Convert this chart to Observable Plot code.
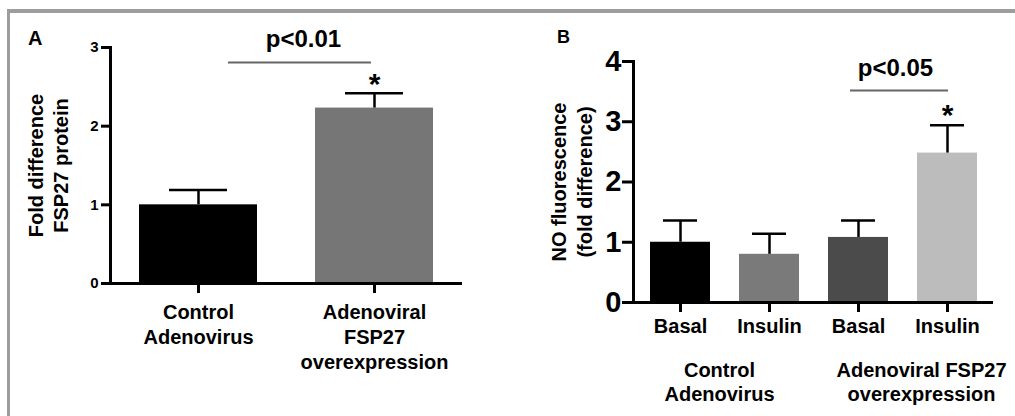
<!DOCTYPE html>
<html><head><meta charset="utf-8">
<script src="https://cdn.jsdelivr.net/npm/d3@7"></script>
<script src="https://cdn.jsdelivr.net/npm/@observablehq/plot@0.6"></script>
<style>
body{margin:0;background:#fff;}
#wrap{position:relative;width:1015px;height:416px;overflow:hidden;font-family:"Liberation Sans",Arial,sans-serif;}
#frame{position:absolute;left:7px;top:9px;right:-10px;bottom:-10px;border-top:4px solid #9d9d9d;border-left:3px solid #9d9d9d;}
.panel{position:absolute;top:0;}
.letter{position:absolute;font-weight:bold;line-height:1;color:#000;}
</style></head><body>
<div id="wrap"><div id="frame"></div><div id="pa" class="panel" style="left:0"></div><div id="pb" class="panel" style="left:500px"></div>
<span class="letter" style="left:28px;top:28px;font-size:20px">A</span>
<span class="letter" style="left:557px;top:28px;font-size:18px">B</span>
</div>
<script>
// Panel A data
const groupsA = ["Control\nAdenovirus", "Adenoviral\nFSP27\noverexpression"];
const meansA = [1.0, 2.23];
const semA = [0.19, 0.19];
const colorsA = ["#000000", "#767676"];
const ticksA = [0, 1, 2, 3];
const sigA = "p<0.01";

// Panel B data
const conditionsB = ["Basal", "Insulin", "Basal", "Insulin"];
const groupLabelsB = ["Control\nAdenovirus", "Adenoviral FSP27\noverexpression"];
const meansB = [1.0, 0.8, 1.08, 2.48];
const semB = [0.36, 0.34, 0.28, 0.46];
const colorsB = ["#000000", "#7a7a7a", "#4b4b4b", "#bcbcbc"];
const ticksB = [0, 1, 2, 3, 4];
const sigB = "p<0.05";

const font = "'Liberation Sans', Arial, sans-serif";
const intFmt = (d) => String(d);

const dataA = groupsA.map((g, i) => ({g, mean: meansA[i], err: meansA[i] + semA[i], color: colorsA[i]}));
const plotA = Plot.plot({
  width: 500, height: 416,
  marginLeft: 110, marginRight: 38, marginTop: 47, marginBottom: 133,
  style: {fontFamily: font, background: "transparent", overflow: "visible", color: "#000"},
  x: {domain: groupsA, paddingInner: 0.33, paddingOuter: 0.16, axis: null},
  y: {domain: [0, 3], axis: null},
  color: {type: "identity"},
  marks: [
    Plot.barY(dataA, {x: "g", y: "mean", fill: "color"}),
    Plot.ruleX(dataA, {x: "g", y1: "mean", y2: "err", stroke: "#000", strokeWidth: 2.5}),
    Plot.tickY(dataA, {x: "g", y: "err", stroke: "#000", strokeWidth: 2.5, inset: 30}),
    Plot.axisY({ticks: ticksA, tickFormat: intFmt, tickSize: 9, strokeWidth: 3, fontSize: 15, fontWeight: "bold", tickPadding: 3, label: null}),
    Plot.axisX({tickSize: 10, strokeWidth: 3, fontSize: 20, fontWeight: "bold", lineHeight: 1.25, tickPadding: 8, label: null}),
    Plot.ruleY([0], {stroke: "#000", strokeWidth: 3}),
    Plot.frame({anchor: "left", stroke: "#000", strokeWidth: 3}),
    Plot.ruleY([{from: groupsA[0], to: groupsA[1], y: 2.81}], {x1: "from", x2: "to", y: "y", stroke: "#666", strokeWidth: 2, insetLeft: 89, insetRight: 62}),
    Plot.text([{to: groupsA[1], y: 2.81}], {x: "to", y: "y", text: () => sigA, dx: -71, dy: -23, fontSize: 24, fontWeight: "bold"}),
    Plot.text([dataA[1]], {x: "g", y: "err", text: () => "*", dy: -9, fontSize: 30, fontWeight: "bold"}),
    Plot.text(["Fold difference\nFSP27 protein"], {frameAnchor: "left", textAnchor: "middle", rotate: -90, dx: -63, fontSize: 20, fontWeight: "bold", lineHeight: 1.25})
  ]
});
document.getElementById("pa").append(plotA);

const dataB = conditionsB.map((c, i) => ({k: i, mean: meansB[i], err: meansB[i] + semB[i], color: colorsB[i]}));
const plotB = Plot.plot({
  width: 515, height: 416,
  marginLeft: 133, marginRight: 22, marginTop: 61, marginBottom: 114,
  style: {fontFamily: font, background: "transparent", overflow: "visible", color: "#000"},
  x: {domain: [0, 1, 2, 3], paddingInner: 0.326, paddingOuter: 0.167, axis: null},
  y: {domain: [0, 4], axis: null},
  color: {type: "identity"},
  marks: [
    Plot.barY(dataB, {x: "k", y: "mean", fill: "color"}),
    Plot.ruleX(dataB, {x: "k", y1: "mean", y2: "err", stroke: "#000", strokeWidth: 2.5}),
    Plot.tickY(dataB, {x: "k", y: "err", stroke: "#000", strokeWidth: 2.5, inset: 13}),
    Plot.axisY({ticks: ticksB, tickFormat: intFmt, tickSize: 11, strokeWidth: 3, fontSize: 29, fontWeight: "bold", tickPadding: 1, label: null}),
    Plot.axisX({tickSize: 10, strokeWidth: 3, fontSize: 20, fontWeight: "bold", tickPadding: 6, label: null, tickFormat: (i) => conditionsB[i]}),
    Plot.ruleY([0], {stroke: "#000", strokeWidth: 3}),
    Plot.frame({anchor: "left", stroke: "#000", strokeWidth: 3}),
    Plot.text([{k: 1, label: groupLabelsB[0]}], {x: "k", y: () => 0, text: "label", dx: -50, dy: 58, lineAnchor: "top", fontSize: 20, fontWeight: "bold", lineHeight: 1.18}),
    Plot.text([{k: 3, label: groupLabelsB[1]}], {x: "k", y: () => 0, text: "label", dx: -26, dy: 58, lineAnchor: "top", fontSize: 20, fontWeight: "bold", lineHeight: 1.18}),
    Plot.ruleY([{from: 2, to: 3, y: 3.52}], {x1: "from", x2: "to", y: "y", stroke: "#666", strokeWidth: 2, insetLeft: 22, insetRight: 29}),
    Plot.text([{to: 3, y: 3.52}], {x: "to", y: "y", text: () => sigB, dx: -52, dy: -22, fontSize: 24, fontWeight: "bold"}),
    Plot.text([dataB[3]], {x: "k", y: "err", text: () => "*", dy: -10, fontSize: 30, fontWeight: "bold"}),
    Plot.text(["NO fluorescence\n(fold difference)"], {frameAnchor: "left", textAnchor: "middle", rotate: -90, dx: -63, fontSize: 20, fontWeight: "bold", lineHeight: 1.33})
  ]
});
document.getElementById("pb").append(plotB);
</script>
</body></html>
